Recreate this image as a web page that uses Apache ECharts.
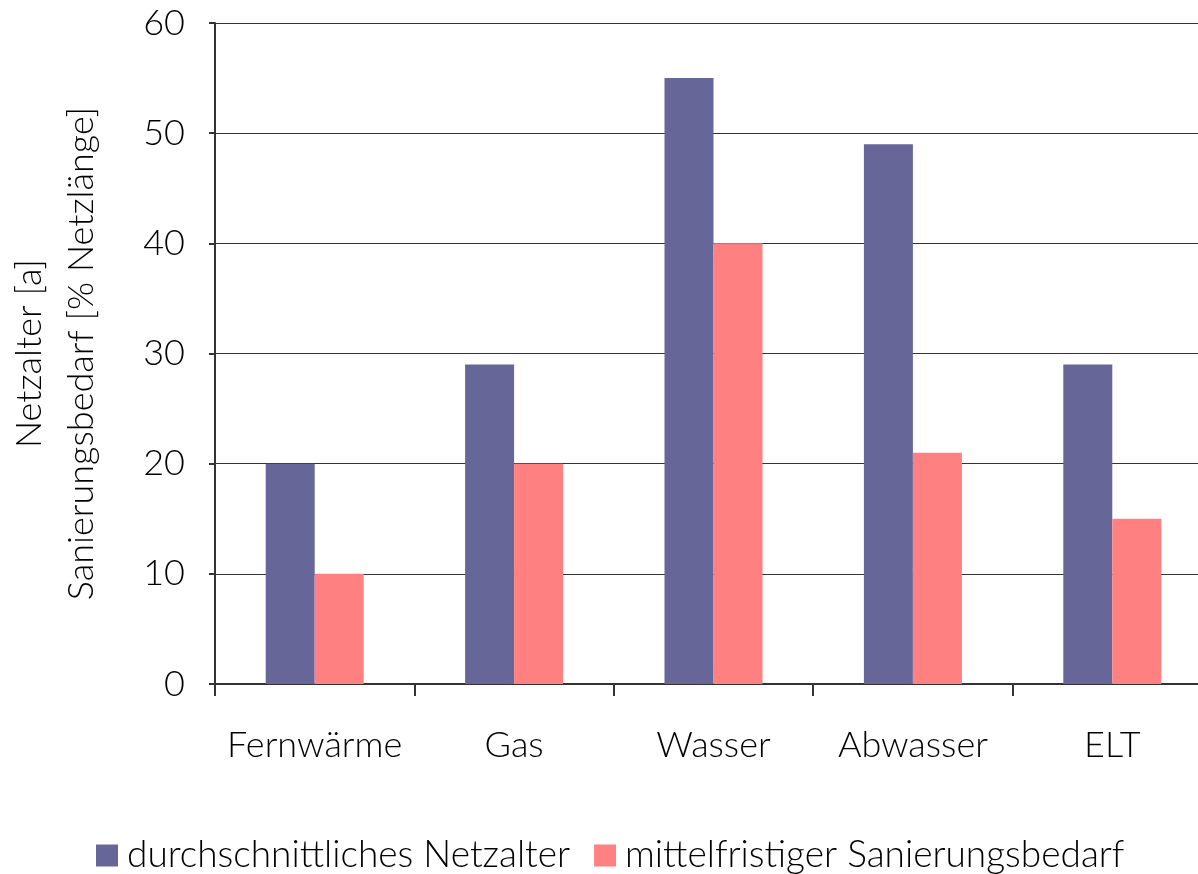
<!DOCTYPE html>
<html>
<head>
<meta charset="utf-8">
<script src="https://cdn.jsdelivr.net/npm/echarts@6/dist/echarts.min.js"></script>
<style>html,body{margin:0;padding:0;background:#fff}#c{width:1198px;height:874px}</style>
</head>
<body>
<div id="c"></div>
<script>
const categories = ['Fernwärme', 'Gas', 'Wasser', 'Abwasser', 'ELT'];
const netzalter = [20, 29, 55, 49, 29];
const sanierung = [10, 20, 40, 21, 15];
const seriesNames = ['durchschnittliches Netzalter', 'mittelfristiger Sanierungsbedarf'];
const yTitle = 'Netzalter [a]\nSanierungsbedarf [% Netzlänge]';

const FONT = 'Lato';
const FW = 300;
const FS = 36;
const chart = echarts.init(document.getElementById('c'), null, {renderer: 'canvas'});
chart.setOption({
  animation: false,
  textStyle: {fontFamily: FONT, fontWeight: FW, color: '#000'},
  grid: {left: 215, right: -14, top: 23, bottom: 190, containLabel: false, outerBoundsMode: 'none'},
  legend: {
    top: 832, left: 91, itemWidth: 22, itemHeight: 22, itemGap: 24,
    icon: 'rect',
    textStyle: {fontFamily: FONT, fontWeight: FW, fontSize: 37, color: '#000', padding: [0, 0, 0, 4]},
    data: seriesNames
  },
  xAxis: {
    type: 'category', data: categories,
    axisLine: {lineStyle: {color: '#333', width: 2}},
    axisTick: {show: true, interval: 0, length: 12, lineStyle: {color: '#333', width: 2}},
    axisLabel: {interval: 0, fontFamily: FONT, fontWeight: FW, fontSize: FS, color: '#000', margin: 43}
  },
  yAxis: {
    type: 'value', min: 0, max: 60, interval: 10,
    name: yTitle, nameLocation: 'middle', nameGap: 108, nameRotate: 90,
    nameTextStyle: {fontFamily: FONT, fontWeight: FW, fontSize: FS, color: '#000', lineHeight: 52},
    axisLine: {show: true, lineStyle: {color: '#333', width: 2}},
    axisTick: {show: true, length: 6, lineStyle: {color: '#333', width: 2}},
    axisLabel: {fontFamily: FONT, fontWeight: FW, fontSize: FS, color: '#000', margin: 30},
    splitLine: {lineStyle: {color: '#333', width: 1}}
  },
  series: [
    {name: seriesNames[0], type: 'bar', data: netzalter, barWidth: 49, barGap: '0%', itemStyle: {color: '#666699'}},
    {name: seriesNames[1], type: 'bar', data: sanierung, barWidth: 49, barGap: '0%', itemStyle: {color: '#FF8080'}}
  ]
});
</script>
</body>
</html>
